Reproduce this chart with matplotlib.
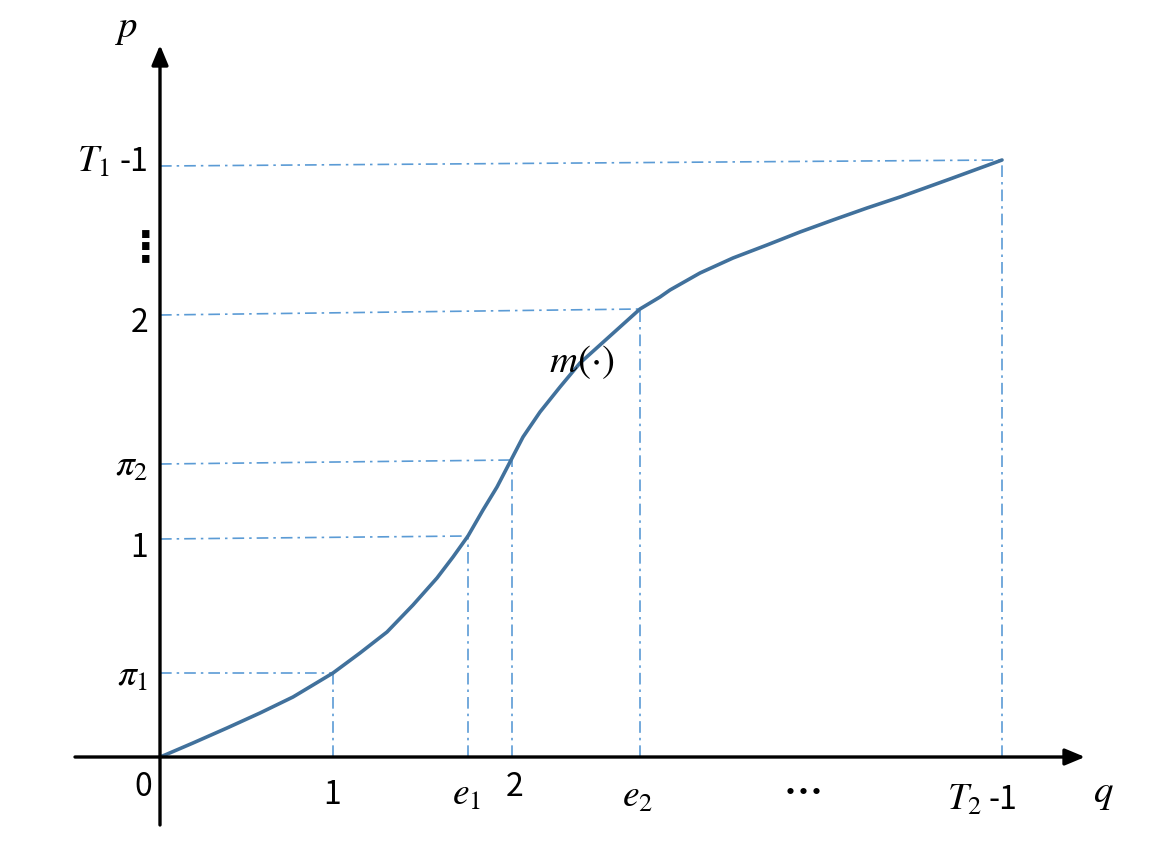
import matplotlib
matplotlib.use("Agg")
import matplotlib.pyplot as plt

plt.rcParams['mathtext.fontset'] = 'stix'

# curve m(.) (q, p)
curve_q = [0.00, 0.05, 0.33, 0.67, 1.00, 1.33, 1.53, 1.73, 2.00, 2.27, 2.53, 2.77,
           2.93, 3.08, 3.23, 3.37, 3.50, 3.63, 3.80, 4.00, 4.20, 4.40, 4.60, 4.80,
           5.00, 5.10, 5.40, 5.73, 6.07, 6.40, 6.73, 7.07, 7.40, 7.90, 8.42]
curve_p = [0.00, 0.02, 0.14, 0.29, 0.44, 0.60, 0.72, 0.84, 1.04, 1.25, 1.52, 1.79,
           2.00, 2.21, 2.47, 2.70, 2.95, 3.20, 3.45, 3.70, 3.94, 4.12, 4.30, 4.48,
           4.60, 4.67, 4.84, 4.99, 5.12, 5.25, 5.37, 5.49, 5.60, 5.78, 5.97]

# marked points on the curve
mark_q = [1.73, 3.08, 3.52, 4.80, 8.42]
mark_p = [0.84, 2.21, 2.97, 4.48, 5.97]
# level at which each horizontal guide meets the p axis
axis_p = [0.84, 2.18, 2.93, 4.42, 5.91]

# tick labels: (math part, plain part)
y_labels = [(r"$\pi_1$", ""), ("", "1"), (r"$\pi_2$", ""), ("", "2"), (r"$T_1$", "-1")]
x_labels = [("", "1"), (r"$e_1$", ""), ("", "2"), (r"$e_2$", ""), (r"$T_2$", "-1")]

fig = plt.figure(figsize=(11.7, 8.65), dpi=100)
ax = fig.add_axes([0, 0, 1, 1])
ax.set_xlim(-1.60, 10.10)
ax.set_ylim(-1.08, 7.57)
ax.axis('off')

guide_col = '#5B9BD5'
dash = (0, (7, 3, 1.5, 3))
for q, p, pa in zip(mark_q, mark_p, axis_p):
    ax.plot([0, q], [pa, p], color=guide_col, lw=1.2, ls=dash)
    ax.plot([q, q], [0, p], color=guide_col, lw=1.2, ls=dash)

ax.plot(curve_q, curve_p, color='#41719C', lw=2.6, solid_capstyle='round',
        solid_joinstyle='round', zorder=3)

# axes with arrows
ax.annotate('', xy=(9.25, 0), xytext=(-0.85, 0),
            arrowprops=dict(arrowstyle='-|>,head_length=1.2,head_width=0.5',
                            lw=2.4, color='black', shrinkA=0, shrinkB=0))
ax.annotate('', xy=(0, 7.12), xytext=(0, -0.68),
            arrowprops=dict(arrowstyle='-|>,head_length=1.2,head_width=0.5',
                            lw=2.4, color='black', shrinkA=0, shrinkB=0))

sans = ['Noto Sans CJK SC', 'DejaVu Sans']
fs = 23
mfs = 27

# y tick labels
y_off = [-0.03, -0.09, -0.02, -0.08, 0.04]
for (m, t), pa, off in zip(y_labels, axis_p, y_off):
    if t:
        ax.text(-0.12, pa + off, t, ha='right', va='center', fontsize=fs, family=sans)
    if m:
        ax.annotate(m, xy=(-0.12, pa + off), xytext=(-27 if t else 0, 0),
                    textcoords='offset points', ha='right', va='center',
                    fontsize=mfs)
ax.text(-0.14, 5.08, "⋮", ha='center', va='center', fontsize=30,
        family=sans, fontweight='bold')

# x tick labels
x_off = [-0.38, -0.38, -0.30, -0.40, -0.43]
x_shift = [-0.01, -0.01, 0.03, -0.02, -0.18]
for (m, t), q, off, sh in zip(x_labels, mark_q, x_off, x_shift):
    if m and t:
        ax.annotate(m, xy=(q + sh, off), xytext=(-1, 0), textcoords='offset points',
                    ha='right', va='center', fontsize=mfs)
        ax.annotate(t, xy=(q + sh, off), xytext=(3, 0), textcoords='offset points',
                    ha='left', va='center', fontsize=fs, family=sans)
    elif m:
        ax.text(q + sh, off, m, ha='center', va='center', fontsize=mfs)
    else:
        ax.text(q + sh, off, t, ha='center', va='center', fontsize=fs, family=sans)
ax.text(6.43, -0.36, "⋯", ha='center', va='center', fontsize=28,
        family=sans, fontweight='bold')

ax.text(-0.17, -0.30, "0", ha='center', va='center', fontsize=fs, family=sans)
ax.text(9.43, -0.36, r"$q$", ha='center', va='center', fontsize=28)
ax.text(-0.33, 7.29, r"$p$", ha='center', va='center', fontsize=28)
ax.text(4.22, 3.95, r"$m(\cdot)$", ha='center', va='center', fontsize=28)

fig.savefig('out.png', dpi=100, facecolor='white')
